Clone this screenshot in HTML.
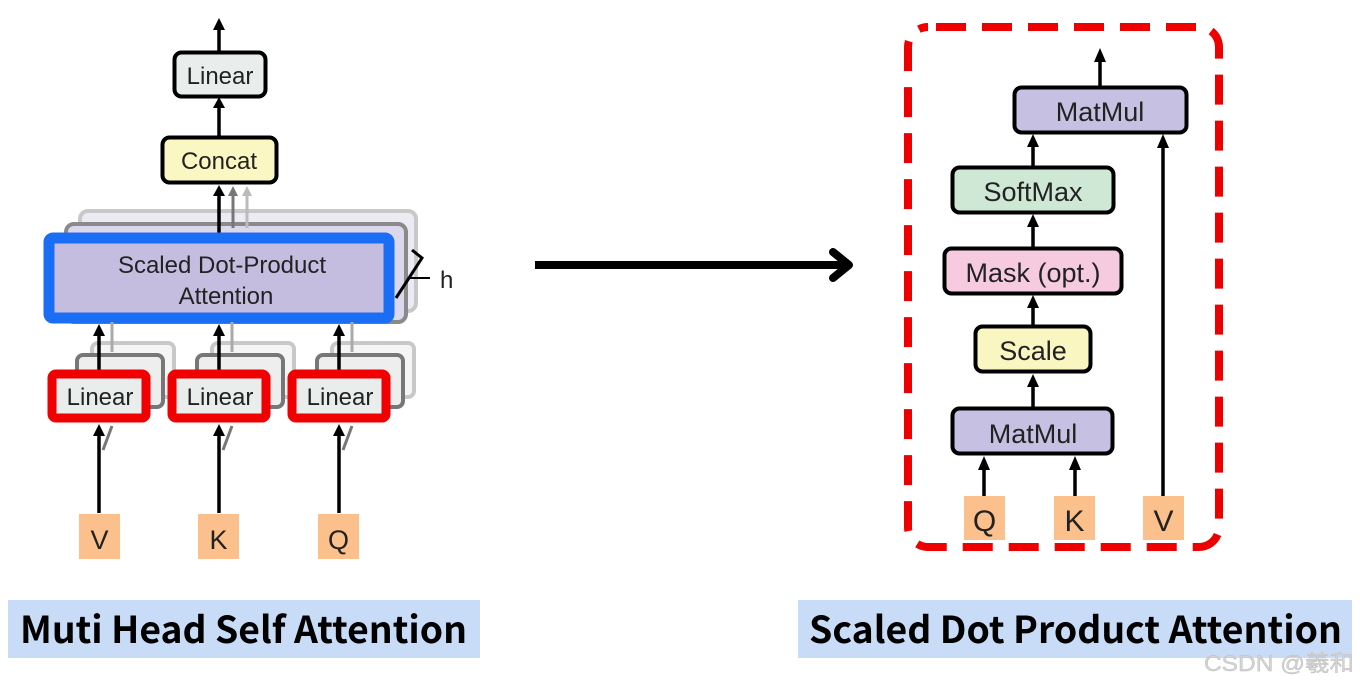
<!DOCTYPE html>
<html><head><meta charset="utf-8"><style>
html,body{margin:0;padding:0;background:#fff;width:1360px;height:686px;overflow:hidden}
svg{display:block}
.t{font-family:"Liberation Sans",sans-serif;fill:#222}
.c{font-family:"Noto Sans CJK SC","Liberation Sans",sans-serif;font-weight:700;fill:#000}
</style></head><body>
<svg width="1360" height="686" viewBox="0 0 1360 686" xmlns="http://www.w3.org/2000/svg">
<!-- LEFT -->
<rect x="80" y="211" width="336" height="100" rx="8" fill="#eceaf3" stroke="#c8c8c8" stroke-width="4"/>
<rect x="66" y="224" width="340" height="98" rx="8" fill="#dcd8ec" stroke="#8a8a8a" stroke-width="4"/>
<path d="M412,250 L422,258 L396,298" fill="none" stroke="#000" stroke-width="3"/>
<line x1="408" y1="278" x2="430" y2="278" stroke="#000" stroke-width="2"/>
<text x="440" y="288" class="t" font-size="24">h</text>
<line x1="247" y1="228" x2="247" y2="194" stroke="#bbb" stroke-width="3"/>
<path d="M242,196 L247,186 L252,196Z" fill="#bbb"/>
<line x1="233" y1="228" x2="233" y2="194" stroke="#777" stroke-width="3"/>
<path d="M228,196 L233,186 L238,196Z" fill="#777"/>
<line x1="219" y1="234" x2="219" y2="194" stroke="#000" stroke-width="3.5"/>
<path d="M213,196 L219,185 L225,196Z" fill="#000"/>
<rect x="49" y="238" width="340" height="80" rx="4" fill="#c5bde0" stroke="#1a6ef5" stroke-width="11"/>
<text x="222" y="273" class="t" font-size="24" text-anchor="middle">Scaled Dot-Product</text>
<text x="226" y="304" class="t" font-size="24" text-anchor="middle">Attention</text>
<line x1="219" y1="137" x2="219" y2="106" stroke="#000" stroke-width="3.5"/>
<path d="M213,108 L219,97 L225,108Z" fill="#000"/>
<line x1="219" y1="52" x2="219" y2="28" stroke="#000" stroke-width="3.5"/>
<path d="M213,30 L219,18 L225,30Z" fill="#000"/>
<rect x="162.5" y="137.5" width="114" height="45" rx="7" fill="#fbf7c3" stroke="#000" stroke-width="4"/>
<text x="219" y="169" class="t" font-size="24" text-anchor="middle">Concat</text>
<rect x="174.5" y="52.5" width="91" height="44" rx="7" fill="#e9edeb" stroke="#000" stroke-width="4"/>
<text x="220" y="84" class="t" font-size="24" text-anchor="middle">Linear</text>
<g id="lg">
<rect x="92" y="343" width="82" height="54" rx="6" fill="#f4f5f4" stroke="#c8c8c8" stroke-width="4"/>
<rect x="77" y="355" width="86" height="52" rx="6" fill="#eeeeee" stroke="#777" stroke-width="4"/>
<line x1="112" y1="322" x2="112" y2="352" stroke="#aaa" stroke-width="3"/>
<line x1="99" y1="370" x2="99" y2="334" stroke="#000" stroke-width="3.5"/>
<path d="M93,336 L99,324 L105,336Z" fill="#000"/>
<rect x="52" y="374" width="94" height="44" rx="4" fill="#e9edeb" stroke="#f00000" stroke-width="9"/>
<text x="100" y="405" class="t" font-size="24" text-anchor="middle">Linear</text>
<line x1="99" y1="513" x2="99" y2="434" stroke="#000" stroke-width="3.5"/>
<path d="M93,436 L99,424 L105,436Z" fill="#000"/>
<line x1="103" y1="450" x2="112" y2="426" stroke="#777" stroke-width="3"/>
</g>
<use href="#lg" x="120"/>
<use href="#lg" x="240"/>
<rect x="79" y="514" width="41" height="45" fill="#fbc08b"/>
<text x="99.5" y="549" class="t" font-size="27" text-anchor="middle">V</text>
<rect x="198" y="514" width="41" height="45" fill="#fbc08b"/>
<text x="218.5" y="549" class="t" font-size="27" text-anchor="middle">K</text>
<rect x="318" y="514" width="41" height="45" fill="#fbc08b"/>
<text x="338.5" y="549" class="t" font-size="27" text-anchor="middle">Q</text>
<line x1="535" y1="265" x2="846" y2="265" stroke="#000" stroke-width="8"/>
<path d="M833,252 L849,265 L833,278" fill="none" stroke="#000" stroke-width="8" stroke-linecap="round" stroke-linejoin="round"/>
<!-- RIGHT -->
<rect x="908" y="27" width="311" height="520" rx="20" fill="none" stroke="#ee0000" stroke-width="8" stroke-dasharray="30 16" stroke-dashoffset="-8"/>
<line x1="1100" y1="86" x2="1100" y2="60" stroke="#000" stroke-width="3.5"/>
<path d="M1094,62 L1100,48 L1106,62Z" fill="#000"/>
<rect x="1014.5" y="87.5" width="172" height="45" rx="7" fill="#c6c0e2" stroke="#000" stroke-width="4"/>
<text x="1100" y="121" class="t" font-size="27" text-anchor="middle">MatMul</text>
<line x1="1033" y1="167" x2="1033" y2="145" stroke="#000" stroke-width="3.5"/>
<path d="M1027,147 L1033,134 L1039,147Z" fill="#000"/>
<rect x="952.5" y="167.5" width="161" height="45" rx="7" fill="#cfe8d6" stroke="#000" stroke-width="4"/>
<text x="1033" y="201" class="t" font-size="27" text-anchor="middle">SoftMax</text>
<line x1="1033" y1="248" x2="1033" y2="225" stroke="#000" stroke-width="3.5"/>
<path d="M1027,227 L1033,214 L1039,227Z" fill="#000"/>
<rect x="944.5" y="248.5" width="177" height="45" rx="7" fill="#f6cbe0" stroke="#000" stroke-width="4"/>
<text x="1033" y="282" class="t" font-size="27" text-anchor="middle">Mask (opt.)</text>
<line x1="1033" y1="326" x2="1033" y2="306" stroke="#000" stroke-width="3.5"/>
<path d="M1027,308 L1033,295 L1039,308Z" fill="#000"/>
<rect x="975.5" y="326.5" width="115" height="45" rx="7" fill="#faf6c1" stroke="#000" stroke-width="4"/>
<text x="1033" y="360" class="t" font-size="27" text-anchor="middle">Scale</text>
<line x1="1033" y1="407" x2="1033" y2="385" stroke="#000" stroke-width="3.5"/>
<path d="M1027,387 L1033,374 L1039,387Z" fill="#000"/>
<rect x="952.5" y="408.5" width="160" height="45" rx="7" fill="#c6c0e2" stroke="#000" stroke-width="4"/>
<text x="1033" y="443" class="t" font-size="27" text-anchor="middle">MatMul</text>
<line x1="1163" y1="512" x2="1163" y2="146" stroke="#000" stroke-width="3.5"/>
<path d="M1157,148 L1163,134 L1169,148Z" fill="#000"/>
<line x1="984" y1="496" x2="984" y2="468" stroke="#000" stroke-width="3.5"/>
<path d="M978,470 L984,456 L990,470Z" fill="#000"/>
<line x1="1075" y1="496" x2="1075" y2="468" stroke="#000" stroke-width="3.5"/>
<path d="M1069,470 L1075,456 L1081,470Z" fill="#000"/>
<rect x="964" y="496" width="41" height="44" fill="#fbc08b"/>
<text x="984.5" y="531" class="t" font-size="30" text-anchor="middle">Q</text>
<rect x="1054" y="496" width="41" height="44" fill="#fbc08b"/>
<text x="1074.5" y="531" class="t" font-size="30" text-anchor="middle">K</text>
<rect x="1143" y="496" width="41" height="44" fill="#fbc08b"/>
<text x="1163.5" y="531" class="t" font-size="30" text-anchor="middle">V</text>
<rect x="8" y="600" width="472" height="58" fill="#c8dcf8"/>
<text x="20" y="643" class="c" font-size="37" textLength="447" lengthAdjust="spacingAndGlyphs">Muti Head Self Attention</text>
<rect x="798" y="600" width="554" height="58" fill="#c8dcf8"/>
<text x="809" y="643" class="c" font-size="37" textLength="533" lengthAdjust="spacingAndGlyphs">Scaled Dot Product Attention</text>
<text x="1204" y="671" font-family="'Liberation Sans','Noto Sans CJK SC',sans-serif" font-size="22" fill="#d4d4d4" stroke="#bbb" stroke-width="0.4" textLength="150" lengthAdjust="spacingAndGlyphs">CSDN @羲和</text>
</svg>
</body></html>
